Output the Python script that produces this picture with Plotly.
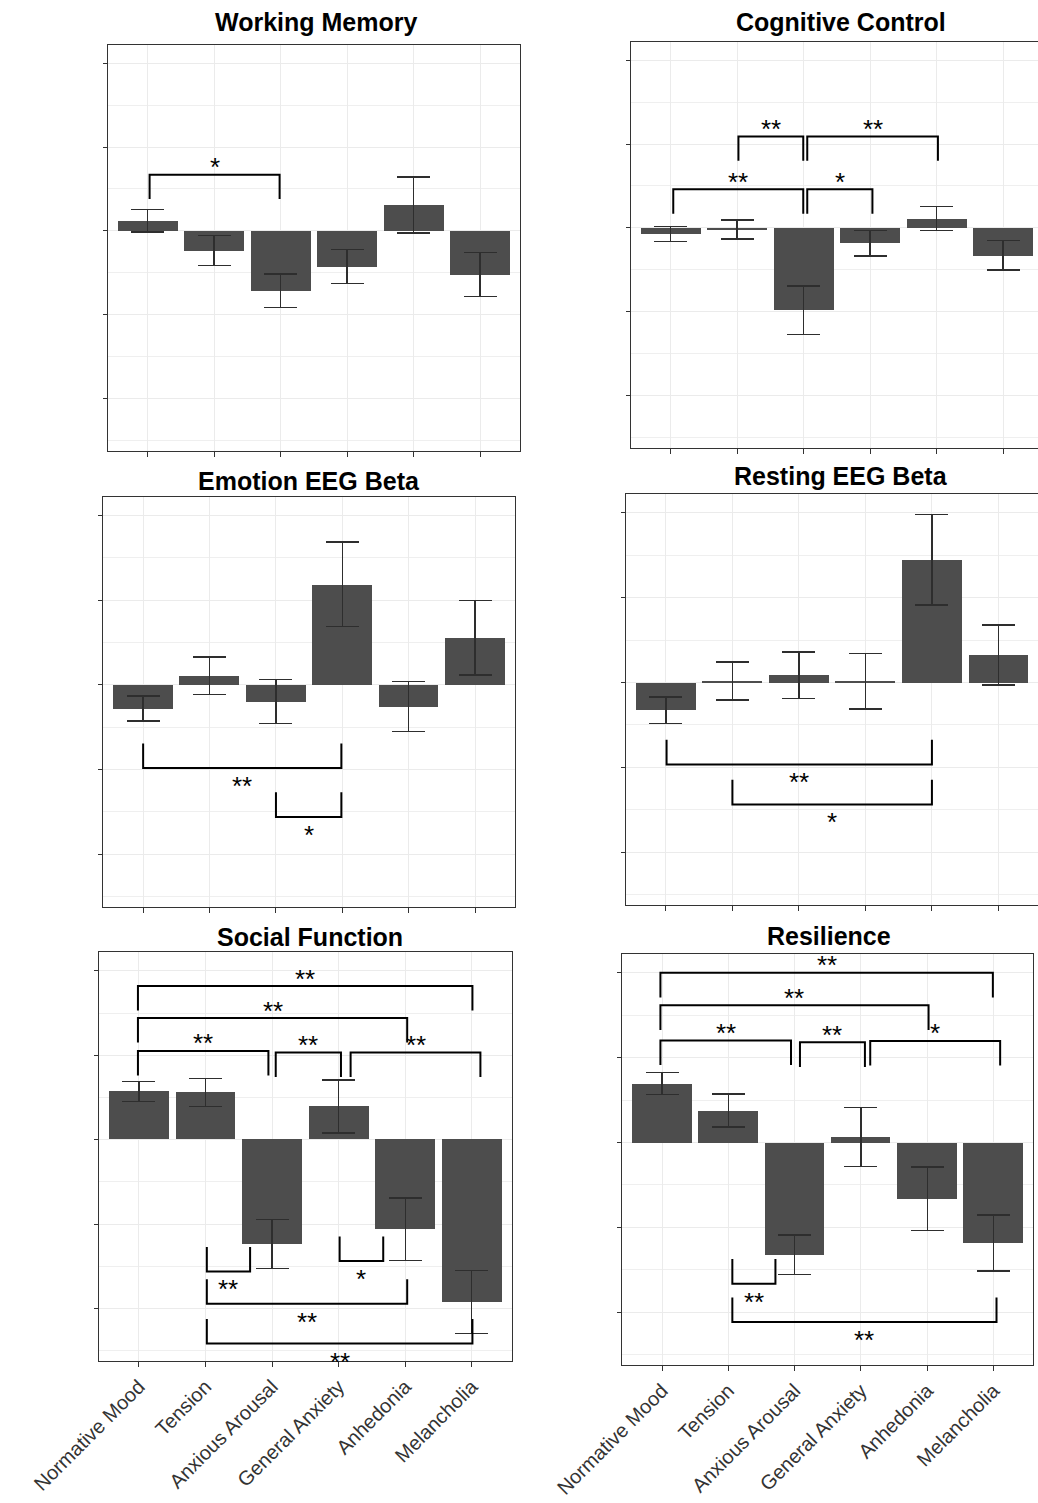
import plotly.graph_objects as go

W, H = 1038, 1503

# ---- data -----------------------------------------------------------------
groups = ["Normative Mood", "Tension", "Anxious Arousal",
          "General Anxiety", "Anhedonia", "Melancholia"]

working_memory_mean = [0.060, -0.117, -0.357, -0.212, 0.155, -0.260]
working_memory_se = [0.066, 0.090, 0.100, 0.102, 0.167, 0.131]

cognitive_control_mean = [-0.036, -0.010, -0.490, -0.091, 0.056, -0.163]
cognitive_control_se = [0.046, 0.057, 0.144, 0.077, 0.070, 0.088]

emotion_beta_mean = [-0.140, 0.054, -0.100, 0.593, -0.128, 0.277]
emotion_beta_se = [0.073, 0.111, 0.130, 0.249, 0.147, 0.220]

resting_beta_mean = [-0.163, 0.008, 0.043, 0.008, 0.722, 0.162]
resting_beta_se = [0.077, 0.112, 0.136, 0.164, 0.266, 0.176]

social_function_mean = [0.286, 0.280, -0.617, 0.197, -0.530, -0.960]
social_function_se = [0.060, 0.082, 0.146, 0.158, 0.184, 0.187]

resilience_mean = [0.347, 0.188, -0.661, 0.032, -0.331, -0.591]
resilience_se = [0.066, 0.097, 0.117, 0.173, 0.188, 0.165]

# significance brackets: (group A, group B, bracket height, side, label, nudge A, nudge B)
working_memory_sig = [
    ("Normative Mood", "Anxious Arousal", 0.335, "up", "*", 0.03, -0.015),
]
cognitive_control_sig = [
    ("Tension", "Anxious Arousal", 0.545, "up", "**", 0.02, -0.005),
    ("Anxious Arousal", "Anhedonia", 0.545, "up", "**", 0.055, 0.02),
    ("Normative Mood", "Anxious Arousal", 0.230, "up", "**", 0.04, -0.005),
    ("Anxious Arousal", "General Anxiety", 0.230, "up", "*", 0.055, 0.035),
]
emotion_beta_sig = [
    ("Normative Mood", "General Anxiety", -0.491, "down", "**", 0.0, -0.015),
    ("Anxious Arousal", "General Anxiety", -0.780, "down", "*", 0.0, -0.015),
]
resting_beta_sig = [
    ("Normative Mood", "Anhedonia", -0.482, "down", "**", 0.01, 0.0),
    ("Tension", "Anhedonia", -0.718, "down", "*", 0.0, 0.0),
]
social_function_sig = [
    ("Normative Mood", "Melancholia", 0.910, "up", "**", -0.015, 0.01),
    ("Normative Mood", "Anhedonia", 0.721, "up", "**", -0.015, 0.03),
    ("Normative Mood", "Anxious Arousal", 0.526, "up", "**", -0.015, -0.055),
    ("Anxious Arousal", "General Anxiety", 0.516, "up", "**", 0.055, 0.035),
    ("General Anxiety", "Melancholia", 0.516, "up", "**", 0.18, 0.13),
    ("Tension", "Anxious Arousal", -0.780, "down", "**", 0.02, -0.33),
    ("General Anxiety", "Anhedonia", -0.718, "down", "*", 0.015, -0.33),
    ("Tension", "Anhedonia", -0.971, "down", "**", 0.02, 0.03),
    ("Tension", "Melancholia", -1.207, "down", "**", 0.02, 0.01),
]
resilience_sig = [
    ("Normative Mood", "Melancholia", 0.999, "up", "**", -0.025, -0.01),
    ("Normative Mood", "Anhedonia", 0.808, "up", "**", -0.025, 0.02),
    ("Normative Mood", "Anxious Arousal", 0.601, "up", "**", -0.025, -0.055),
    ("Anxious Arousal", "General Anxiety", 0.590, "up", "**", 0.08, 0.06),
    ("General Anxiety", "Melancholia", 0.598, "up", "*", 0.14, 0.10),
    ("Tension", "Anxious Arousal", -0.831, "down", "**", 0.06, -0.29),
    ("Tension", "Melancholia", -1.057, "down", "**", 0.06, 0.045),
]

# ---- layout of the six panels (pixel boxes) ---------------------------------
panels = [
    dict(title="Working Memory", mean=working_memory_mean, se=working_memory_se,
         sig=working_memory_sig, box=(107.7, 520, 44.7, 450.7), xmax=5.6,
         title_xy=(315.8, 22), labels=False, right=True),
    dict(title="Cognitive Control", mean=cognitive_control_mean, se=cognitive_control_se,
         sig=cognitive_control_sig, box=(630.7, 1038, 41.7, 447.7), xmax=5.525,
         title_xy=(841.3, 22), labels=False, right=False),
    dict(title="Emotion EEG Beta", mean=emotion_beta_mean, se=emotion_beta_se,
         sig=emotion_beta_sig, box=(103.3, 515, 496.7, 906.7), xmax=5.6,
         title_xy=(309, 481), labels=False, right=True),
    dict(title="Resting EEG Beta", mean=resting_beta_mean, se=resting_beta_se,
         sig=resting_beta_sig, box=(626, 1038, 494, 905), xmax=5.595,
         title_xy=(841, 476), labels=False, right=False),
    dict(title="Social Function", mean=social_function_mean, se=social_function_se,
         sig=social_function_sig, box=(99, 511.7, 952.3, 1361), xmax=5.6,
         title_xy=(310, 937), labels=True, right=True),
    dict(title="Resilience", mean=resilience_mean, se=resilience_se,
         sig=resilience_sig, box=(622.3, 1033.3, 954, 1365), xmax=5.6,
         title_xy=(829, 936), labels=True, right=True),
]

BAR = "#4D4D4D"
ERR = "#2E2E2E"
GRID = "#EBEBEB"
BORDER = "#333333"
FONT = "Liberation Sans, Arial, Helvetica, sans-serif"
TIP = 0.145  # bracket leg length in axis units
STAR_SIZE = 26

fig = go.Figure()
layout = {}
annotations = []

for k, p in enumerate(panels, start=1):
    xname = "x" if k == 1 else f"x{k}"
    yname = "y" if k == 1 else f"y{k}"
    x0, x1, top, bottom = p["box"]

    xs = list(range(len(groups)))
    fig.add_trace(go.Bar(
        x=xs, y=p["mean"], width=0.9,
        marker=dict(color=BAR, line=dict(width=0)),
        error_y=dict(type="data", array=p["se"], visible=True,
                     color=ERR, thickness=1.4, width=16.5),
        xaxis=xname, yaxis=yname, showlegend=False, hoverinfo="skip",
    ))

    for a, b, yb, side, label, na, nb in p["sig"]:
        xa = groups.index(a) + na
        xb = groups.index(b) + nb
        leg = yb - TIP if side == "up" else yb + TIP
        fig.add_trace(go.Scatter(
            x=[xa, xa, xb, xb], y=[leg, yb, yb, leg], mode="lines",
            line=dict(color="black", width=2),
            xaxis=xname, yaxis=yname, showlegend=False, hoverinfo="skip",
            cliponaxis=False,
        ))
        annotations.append(dict(
            x=(xa + xb) / 2, y=yb, xref=xname, yref=yname,
            text=label, showarrow=False, yanchor="middle",
            yshift=7.5 if side == "up" else -18,
            font=dict(family=FONT, size=STAR_SIZE, color="black"),
        ))

    tx, ty = p["title_xy"]
    annotations.append(dict(
        x=tx / W, y=1 - ty / H, xref="paper", yref="paper",
        text=f"<b>{p['title']}</b>", showarrow=False,
        xanchor="center", yanchor="middle",
        font=dict(family=FONT, size=25, color="black"),
    ))

    layout["xaxis" if k == 1 else f"xaxis{k}"] = dict(
        domain=[x0 / W, x1 / W], range=[-0.6, p["xmax"]], anchor=yname,
        automargin=False,
        tickmode="array", tickvals=xs, ticktext=groups,
        showticklabels=p["labels"], tickangle=-45,
        tickfont=dict(family=FONT, size=20, color="#333333"),
        ticks="outside", ticklen=5, tickwidth=1.2, tickcolor=BORDER,
        showgrid=True, gridcolor=GRID, gridwidth=1.3,
        showline=True, linecolor=BORDER, linewidth=1.3, mirror=True,
        zeroline=False, fixedrange=True,
    )
    layout["yaxis" if k == 1 else f"yaxis{k}"] = dict(
        domain=[1 - bottom / H, 1 - top / H], range=[-1.31, 1.11], anchor=xname,
        automargin=False,
        tickmode="linear", tick0=0, dtick=0.5, showticklabels=False,
        ticks="outside", ticklen=4, tickwidth=1.2, tickcolor=BORDER,
        showgrid=True, gridcolor=GRID, gridwidth=1.3,
        minor=dict(tick0=0, dtick=0.25, showgrid=True, gridcolor="#EFEFEF",
                   gridwidth=0.9, ticks=""),
        showline=True, linecolor=BORDER, linewidth=1.3, mirror=p["right"],
        zeroline=False, fixedrange=True,
    )

fig.update_layout(
    width=W, height=H,
    margin=dict(l=0, r=0, t=0, b=0, autoexpand=False),
    paper_bgcolor="white", plot_bgcolor="white",
    annotations=annotations, bargap=0, showlegend=False,
    **layout,
)

fig.write_html("out.html", config={"displayModeBar": False})
